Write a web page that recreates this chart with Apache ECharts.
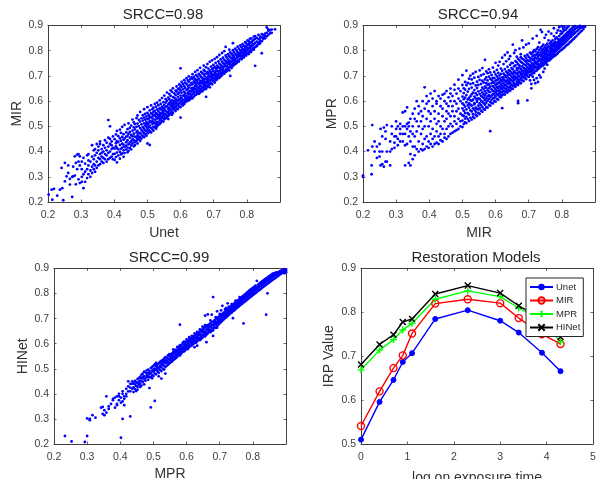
<!DOCTYPE html>
<html><head><meta charset="utf-8">
<style>html,body{margin:0;padding:0;background:#fff}#c{width:597px;height:479px}</style>
<script src="https://cdn.jsdelivr.net/npm/echarts@6/dist/echarts.min.js"></script>
</head><body><div id="c"></div>
<script>
const titles=['SRCC=0.98','SRCC=0.94','SRCC=0.99','Restoration Models'];
const xNames=['Unet','MIR','MPR','log on exposure time'];
const yNames=['MIR','MPR','HINet','IRP Value'];
const exposure=[0,.4,.7,.9,1.1,1.6,2.3,3,3.4,3.9,4.3];
const unetCurve=[.51,.596,.646,.687,.707,.785,.805,.781,.754,.708,.666];
const mirCurve=[.541,.62,.673,.702,.752,.82,.83,.821,.787,.75,.728];
const mprCurve=[.669,.714,.738,.76,.775,.83,.849,.836,.81,.78,.733];
const hinetCurve=[.681,.727,.749,.778,.785,.842,.861,.844,.815,.785,.744];
// each row: x value followed by the y values read at that x
const unetMir=[
[.202,.229],[.211,.249],[.213,.209],[.218,.252],[.228,.225],[.236,.249],[.241,.335],[.243,.255],[.246,.207],[.251,.282,.355],[.256,.302],[.261,.345,.315],[.266,.269,.292],[.273,.22,.3],[.276,.302,.34],[.281,.381,.305],[.284,.355,.27],[.288,.388,.33],[.292,.29,.36,.39],[.296,.275,.381,.345],[.302,.3,.33,.36,.28],[.307,.255,.31,.375],[.312,.32,.28,.352],[.318,.295,.33,.385],[.322,.31,.345,.365,.39],[.328,.325,.3,.36],[.333,.315,.34,.38,.425],[.338,.33,.35,.405,.37],[.342,.345,.32,.385,.41],[.347,.335,.36,.395,.43],[.352,.345,.375,.405,.42],[.357,.35,.37,.39,.43,.44],[.362,.36,.38,.41,.395],[.367,.355,.375,.4,.425],[.372,.37,.39,.415,.445],[.377,.36,.385,.405,.435],[.382,.37,.395,.42,.455,.525],[.387,.375,.4,.43,.45,.5],[.392,.38,.41,.425,.44],[.396,.37,.39,.415,.46],
[.401,.367,.412,.449,.391],[.405,.421,.378,.468,.433],[.408,.396,.441,.357,.482,.414],[.412,.438,.384,.409,.461],[.417,.372,.426,.452,.399,.487],[.42,.443,.411,.389,.474],[.424,.431,.393,.458,.416,.498],[.428,.405,.447,.379,.469,.427],[.431,.452,.418,.394,.506],[.436,.408,.476,.437,.459,.423],[.44,.489,.445,.416,.397,.462],[.443,.429,.471,.512,.403],[.447,.414,.455,.436,.494,.478],[.451,.441,.424,.503,.466,.409],[.455,.483,.449,.432,.527,.461],[.459,.421,.471,.445,.516,.496],[.462,.437,.488,.459,.425,.509],[.467,.476,.443,.533,.498,.456],[.47,.464,.432,.511,.482,.449,.543],[.474,.448,.501,.472,.526,.459],[.478,.493,.456,.519,.474,.442,.557],[.482,.467,.508,.486,.451,.532],[.486,.461,.497,.523,.479,.544],[.49,.512,.473,.457,.491,.535,.568],[.493,.468,.503,.484,.527,.549],[.497,.481,.518,.463,.539,.498,.511],[.5,.472,.529,.491,.553,.507,.432,.576],[.504,.486,.476,.514,.544,.497,.531],[.507,.522,.481,.503,.563,.538,.426],[.511,.494,.536,.476,.517,.552,.583],[.515,.509,.488,.531,.547,.568,.521],[.518,.498,.541,.516,.574,.483,.557],[.522,.527,.496,.512,.561,.544,.589],[.526,.504,.552,.538,.519,.578,.491],[.529,.549,.511,.531,.499,.567,.594],[.533,.518,.561,.543,.506,.584,.534],[.537,.526,.509,.572,.553,.541,.603],[.54,.547,.514,.532,.589,.568,.524],[.544,.521,.563,.538,.578,.552,.612],[.548,.543,.519,.572,.531,.596,.558],[.551,.528,.584,.549,.566,.538,.622],[.555,.561,.532,.594,.547,.576,.608],[.559,.541,.579,.536,.557,.601,.634],[.563,.553,.587,.569,.542,.614,.529],[.566,.546,.608,.574,.592,.561,.628],[.57,.584,.552,.566,.621,.599,.643],[.574,.558,.603,.576,.637,.591,.546],[.577,.569,.592,.553,.616,.581,.651],[.581,.613,.566,.588,.631,.574,.601],[.585,.579,.561,.624,.596,.642,.609],[.588,.592,.571,.638,.606,.658,.582],[.592,.584,.617,.568,.629,.602,.647],[.596,.607,.578,.651,.591,.634,.666],[.6,.535,.598,.622,.576,.643,.611,.73,.661],[.603,.587,.634,.612,.601,.656,.676],[.607,.621,.594,.647,.583,.668,.606],[.611,.603,.637,.589,.624,.659,.683],[.614,.616,.596,.652,.631,.673,.607],[.618,.599,.644,.622,.668,.609,.691],[.622,.632,.604,.661,.615,.648,.682],[.625,.612,.654,.626,.603,.676,.638,.698],[.629,.641,.617,.663,.608,.686,.629],[.633,.621,.651,.638,.672,.614,.694],[.636,.644,.628,.667,.611,.689,.653,.707],[.64,.633,.678,.618,.652,.696,.642],[.644,.649,.624,.671,.659,.687,.716],[.647,.637,.663,.626,.681,.648,.703],[.651,.656,.631,.674,.643,.697,.723,.684],[.655,.638,.668,.629,.689,.652,.708],[.659,.661,.644,.681,.634,.702,.672,.732],[.662,.648,.676,.658,.696,.641,.716],[.666,.669,.639,.691,.654,.711,.681],[.67,.658,.684,.646,.706,.671,.741,.724],[.673,.676,.652,.698,.664,.719,.687],[.677,.617,.661,.688,.648,.709,.674,.734],[.681,.671,.694,.656,.716,.683,.747],[.684,.689,.662,.702,.676,.729,.711],[.688,.668,.697,.681,.721,.655,.756],[.692,.699,.672,.714,.686,.737,.708],[.695,.684,.706,.667,.726,.694,.762],[.699,.703,.679,.719,.691,.744,.731],[.703,.688,.712,.674,.736,.701,.768],[.706,.709,.696,.729,.683,.752,.718],[.71,.693,.721,.704,.741,.686,.774,.731],[.714,.717,.699,.736,.707,.758],[.717,.706,.731,.692,.749,.719,.783],[.721,.724,.711,.744,.698,.766,.733],[.725,.709,.738,.721,.757,.703,.791],[.728,.732,.716,.751,.726,.772],[.732,.718,.746,.709,.764,.737,.798],[.736,.741,.724,.759,.716,.781,.751,.815],[.739,.729,.754,.739,.774,.719],[.743,.748,.726,.766,.736,.786,.756],[.747,.733,.761,.748,.779,.722,.804],[.75,.7,.755,.738,.774,.746,.793],[.754,.743,.769,.731,.787,.757],[.758,.761,.749,.781,.739,.802,.771,.83],[.761,.751,.776,.764,.794,.744],[.765,.768,.747,.787,.759,.808],[.769,.756,.781,.771,.801,.751],[.772,.774,.761,.794,.784,.816],[.776,.763,.789,.779,.808,.757],[.78,.782,.769,.801,.791,.821],[.784,.771,.796,.778,.814,.766],[.787,.788,.776,.806,.797,.826],[.791,.779,.803,.789,.819,.773],[.795,.796,.783,.812,.804,.834],[.798,.787,.817,.799,.829,.781],[.802,.804,.791,.823,.811,.841],[.806,.794,.826,.809,.837,.787],[.809,.812,.799,.831,.819,.847],[.813,.802,.834,.816,.849,.795],[.817,.821,.807,.839,.827],[.821,.811,.843,.826,.856,.804],[.825,.74,.814,.831,.847,.858],[.83,.821,.836,.851,.818],[.835,.832,.826,.846,.863],[.84,.829,.848,.856,.838],[.845,.79,.838,.853,.866],[.85,.846,.862,.852],[.855,.849,.868,.859],[.86,.857,.871,.892],[.865,.863,.879,.885],[.87,.869,.881],[.875,.871,.884],[.885,.885]];
const mirMpr=[
[.2,.305,.3],[.215,.405],[.226,.345,.31],[.228,.42,.505],[.235,.4,.44],[.242,.375,.42],[.25,.4,.43,.38],[.253,.49,.345],[.258,.35,.4,.46],[.263,.34,.495],[.268,.36,.45,.48],[.272,.505,.4,.36],[.282,.345,.4,.44],[.287,.41,.47,.5],[.295,.415,.46,.435],[.3,.49,.52,.46],[.305,.45,.5,.425],[.312,.47,.44,.51,.49],[.32,.44,.5,.47,.555],[.327,.345,.425,.47,.5,.56],[.333,.43,.49,.51,.575],[.338,.355,.46,.5,.515],[.343,.345,.39,.44,.48,.53],[.35,.37,.47,.5,.55,.42],[.356,.385,.42,.46,.53,.57],[.362,.41,.48,.52,.6],[.368,.4,.44,.5,.55,.58],[.375,.41,.47,.52,.56],[.38,.405,.43,.49,.54,.6],[.386,.41,.45,.5,.57,.655],[.392,.42,.46,.53,.59,.62],[.398,.415,.44,.5,.56,.6],[.404,.43,.47,.52,.55,.63],[.41,.42,.45,.49,.58,.61],[.416,.43,.46,.53,.56,.64],[.422,.435,.48,.51,.6,.59],[.428,.43,.46,.52,.55,.62],[.434,.445,.47,.5,.58,.61],[.44,.44,.49,.54,.57,.625],[.446,.455,.47,.52,.6,.63],[.452,.45,.49,.53,.56,.64,.59],[.458,.46,.5,.55,.58,.615],[.464,.47,.51,.54,.6,.63,.65],[.47,.475,.5,.56,.58,.62],[.476,.48,.52,.54,.6,.645,.665],[.482,.485,.51,.56,.59,.63],[.488,.49,.53,.57,.61,.65,.685],[.494,.5,.52,.55,.6,.64],
[.5,.497,.523,.571,.544,.618,.591,.664,.703],[.504,.509,.541,.586,.562,.632,.608,.651],[.508,.516,.531,.578,.553,.614,.646,.676],[.512,.513,.567,.538,.596,.624,.663,.721],[.516,.529,.552,.583,.607,.638,.672],[.52,.521,.547,.574,.613,.591,.649,.689],[.524,.534,.563,.586,.619,.604,.668,.701],[.528,.527,.559,.582,.627,.601,.654,.686],[.532,.538,.571,.548,.606,.634,.671,.709],[.536,.533,.566,.592,.618,.644,.587,.693],[.54,.546,.574,.558,.611,.631,.662,.716],[.544,.541,.597,.569,.624,.652,.677,.603],[.548,.553,.582,.611,.567,.639,.696,.664],[.552,.549,.591,.572,.629,.609,.684,.722],[.556,.562,.584,.602,.643,.621,.668,.702],[.56,.558,.598,.577,.634,.617,.681,.654,.731],[.564,.569,.592,.612,.648,.627,.707,.674],[.568,.566,.604,.586,.639,.622,.686,.658,.764],[.572,.576,.611,.594,.652,.631,.694,.671,.718],[.576,.574,.602,.619,.643,.664,.711,.682],[.58,.585,.609,.637,.624,.668,.651,.726,.697],[.584,.582,.617,.597,.658,.636,.689,.714,.481],[.588,.593,.622,.606,.647,.671,.704,.684],[.592,.591,.613,.641,.628,.677,.659,.733,.692],[.596,.601,.626,.612,.654,.638,.691,.716,.672],[.6,.598,.634,.619,.664,.647,.706,.681,.752],[.604,.609,.628,.656,.642,.683,.669,.724,.698],[.608,.606,.639,.623,.671,.652,.712,.689,.741],[.612,.617,.644,.631,.677,.659,.702,.691,.756],[.616,.615,.637,.652,.626,.684,.669,.729,.708],[.62,.572,.623,.649,.636,.679,.661,.721,.694,.772],[.624,.628,.657,.642,.686,.671,.709,.694,.747],[.628,.626,.651,.638,.681,.664,.727,.703,.783],[.632,.636,.662,.648,.694,.676,.717,.699,.758],[.636,.634,.656,.671,.643,.701,.683,.736,.712,.793],[.64,.643,.669,.653,.691,.678,.723,.708,.767],[.644,.641,.673,.658,.704,.686,.744,.719,.778],[.648,.652,.666,.683,.649,.713,.697,.731,.752],[.652,.649,.678,.662,.707,.692,.751,.726,.824],[.656,.659,.684,.671,.717,.699,.738,.716,.791],[.66,.657,.688,.666,.711,.696,.742,.759,.802],[.664,.667,.693,.678,.723,.708,.754,.731,.776],[.668,.601,.664,.686,.701,.674,.729,.713,.768,.746,.592],[.672,.674,.697,.683,.734,.717,.762,.741,.808],[.676,.671,.706,.689,.727,.712,.756,.774,.786],[.68,.682,.702,.694,.738,.721,.752,.769,.841],[.684,.679,.711,.696,.732,.719,.766,.748,.813],[.688,.691,.708,.724,.701,.744,.729,.779,.761],[.692,.687,.716,.704,.741,.726,.772,.756,.824],[.696,.603,.698,.721,.709,.749,.734,.784,.763],[.7,.696,.728,.714,.746,.732,.776,.759,.829],[.704,.703,.724,.742,.717,.761,.739,.792,.771,.682],[.708,.651,.706,.731,.719,.753,.738,.787,.769,.668],[.712,.697,.714,.737,.724,.764,.746,.794,.778,.848],[.716,.711,.741,.729,.761,.749,.783,.802,.768,.684],[.72,.719,.734,.752,.736,.772,.757,.797,.781,.671],[.724,.691,.722,.746,.733,.768,.754,.806,.787,.859],[.728,.727,.749,.738,.776,.759,.793,.814,.782,.676],[.732,.731,.744,.762,.736,.784,.768,.803,.832,.703],[.736,.694,.736,.757,.746,.781,.764,.811,.793,.883],[.74,.739,.753,.769,.749,.788,.774,.817,.801,.874],[.744,.742,.762,.751,.779,.793,.766,.824,.806,.716],[.748,.729,.747,.768,.756,.786,.773,.813,.798,.851],[.752,.751,.771,.761,.794,.781,.821,.807,.863],[.756,.744,.758,.776,.766,.801,.787,.828,.811],[.76,.761,.782,.769,.797,.784,.818,.841,.876],[.764,.763,.784,.773,.806,.793,.829,.814],[.768,.769,.779,.792,.811,.799,.836,.823,.868],[.772,.774,.787,.798,.816,.806,.841,.826],[.776,.778,.794,.784,.819,.803,.831,.858,.889],[.78,.781,.796,.806,.824,.813,.847,.836],[.784,.786,.801,.812,.829,.818,.853,.871],[.788,.791,.807,.817,.834,.823,.846,.881],[.792,.796,.811,.821,.841,.829,.858,.893],[.796,.801,.816,.827,.846,.836,.866,.878],[.8,.804,.822,.833,.851,.841,.869,.897],[.804,.809,.826,.838,.856,.847,.876,.887],[.808,.813,.831,.843,.861,.851,.881,.894],[.812,.819,.836,.848,.866,.857,.884],[.816,.823,.841,.854,.872,.861,.891],[.82,.827,.846,.858,.876,.868,.896],[.824,.833,.852,.864,.882,.873],[.828,.837,.856,.869,.887,.876],[.832,.843,.862,.874,.891,.883],[.836,.847,.867,.879,.895],[.84,.853,.871,.886,.897],[.845,.859,.877,.891],[.85,.866,.883,.895],[.855,.873,.889,.898],[.86,.879,.893],[.865,.886,.896],[.87,.895]];
const mprHinet=[
[.233,.232],[.253,.21],[.293,.208],[.3,.232,.302],[.308,.295,.3],[.316,.315],[.325,.305],[.342,.345],[.347,.348,.32],[.352,.315,.335],[.358,.325,.39],[.365,.35,.34],[.372,.36],[.378,.38,.375],[.384,.345,.385],[.39,.39,.36,.355],[.396,.375,.4,.39],[.402,.225,.385,.365],[.407,.3,.37,.4,.41],[.412,.39,.38,.355],[.418,.4,.42,.39],[.424,.43,.41,.45],[.43,.31,.41,.44,.425],[.436,.42,.44,.45],
[.44,.407,.426,.443],[.444,.419,.438,.452],[.448,.411,.431,.447],[.452,.428,.442,.459,.417],[.456,.436,.449,.463],[.46,.441,.427,.468,.453],[.464,.451,.462,.476,.433],[.468,.447,.466,.481],[.472,.458,.471,.489,.438],[.476,.463,.452,.486],[.48,.467,.481,.473,.494],[.484,.471,.456,.497,.483],[.488,.423,.479,.491,.466],[.492,.346,.468,.484,.503],[.496,.476,.493,.508,.462],[.5,.488,.471,.498,.512],[.504,.372,.481,.501,.494,.517],[.508,.499,.478,.511,.523],[.512,.489,.507,.516,.496],[.516,.503,.484,.522,.47],[.52,.512,.495,.527,.506],[.524,.508,.491,.531,.519,.461],[.528,.517,.501,.534,.526],[.532,.513,.528,.497,.54],[.536,.523,.507,.533,.546,.481],[.54,.531,.512,.544,.525],[.544,.527,.539,.553,.516],[.548,.536,.521,.549,.558],[.552,.533,.557,.544,.526],[.556,.541,.529,.561,.553],[.56,.549,.535,.566,.558,.577],[.564,.546,.562,.571,.539],[.568,.553,.569,.543,.576,.561],[.572,.559,.574,.548,.567,.587],[.576,.556,.579,.566,.586],[.58,.564,.583,.553,.572,.676,.594],[.584,.572,.589,.561,.579],[.588,.568,.596,.581,.603],[.592,.577,.586,.599,.569,.608],[.596,.583,.604,.574,.594],[.6,.581,.596,.589,.609,.617],[.604,.588,.612,.579,.601],[.608,.594,.606,.586,.617,.626],[.612,.591,.619,.603,.611],[.616,.601,.623,.593,.612,.631],[.62,.606,.617,.599,.628],[.624,.603,.631,.613,.624,.641,.586],[.628,.611,.622,.636,.603],[.632,.618,.638,.609,.627,.647,.592],[.636,.616,.643,.624,.633],[.64,.622,.637,.648,.614,.657],[.644,.627,.652,.636,.619],[.648,.633,.646,.657,.624,.668],[.652,.631,.661,.643,.651],[.656,.637,.648,.666,.629,.712,.674],[.66,.644,.657,.671,.636,.606],[.664,.641,.664,.653,.674,.717],[.668,.648,.677,.658,.669],[.672,.654,.668,.681,.646,.693],[.676,.651,.686,.664,.675,.716],[.68,.659,.674,.688,.653,.786,.631],[.684,.666,.682,.693,.676],[.688,.663,.697,.678,.687,.706],[.692,.671,.686,.701,.664,.729],[.696,.676,.694,.706,.684],[.7,.682,.698,.689,.711,.719],[.704,.687,.708,.696,.716,.733],[.708,.692,.703,.719,.711,.751],[.712,.697,.714,.724,.706],[.716,.702,.718,.728,.711,.738],[.72,.706,.723,.714,.733,.743],[.724,.711,.727,.736,.719,.761],[.728,.716,.732,.741,.724,.748],[.732,.721,.737,.746,.729],[.736,.724,.741,.733,.751,.758],[.74,.729,.746,.755,.737,.702],[.744,.733,.751,.742,.761],[.748,.738,.756,.747,.766,.772],[.752,.743,.759,.752,.769],[.756,.746,.764,.757,.774],[.76,.751,.769,.761,.779,.786],[.764,.756,.774,.766,.783],[.768,.759,.778,.771,.788],[.772,.764,.783,.776,.681,.792],[.776,.768,.787,.779,.797],[.78,.772,.791,.784,.801],[.784,.777,.796,.788,.806],[.788,.781,.799,.793,.811],[.792,.786,.804,.797,.815],[.796,.789,.808,.801,.819],[.8,.794,.813,.806,.823],[.804,.798,.816,.809,.827],[.808,.802,.821,.814,.832],[.812,.806,.825,.818,.851],[.816,.811,.828,.822,.836],[.82,.814,.832,.826,.841],[.824,.818,.837,.831,.845],[.828,.823,.84,.834,.849],[.832,.827,.844,.838,.853],[.836,.831,.848,.843,.857],[.84,.716,.835,.852,.846,.861],[.844,.801,.839,.856,.851,.864],[.848,.843,.86,.854,.868],[.852,.847,.863,.858,.871],[.856,.851,.867,.862,.875],[.86,.855,.871,.866,.879],[.865,.859,.876,.87,.881],[.87,.864,.88,.875,.884],[.875,.869,.884,.878],[.88,.874,.888,.882],[.885,.879,.891,.886],[.89,.883,.893,.887],[.895,.881,.886,.892,.897],[.9,.885,.891,.896]];

const expand=rows=>rows.flatMap(r=>r.slice(1).map(y=>[r[0],y]));
const ink='#404040';
const font='"Liberation Sans",Arial,sans-serif';
const boxes=[{left:48,top:25.5,width:232,height:176.5},{left:363,top:25.5,width:232,height:176.5},{left:54,top:268.5,width:232,height:175.5},{left:361,top:268.5,width:232,height:175.5}];
const xAxis=[],yAxis=[];
const nameGapsX=[24,24,23,27];
boxes.forEach((b,i)=>{
  const line=i===3;
  const base={axisLine:{show:true,onZero:false,lineStyle:{color:ink,width:1}},axisTick:{show:true,inside:true,length:2.5,lineStyle:{color:ink,width:.8}},splitLine:{show:false},gridIndex:i};
  const xr=line?{min:0,max:5,interval:1}:{min:.2,max:.9,interval:.1};
  const yr=line?{min:.5,max:.9,interval:.1}:{min:.2,max:.9,interval:.1};
  xAxis.push({...base,...xr,type:'value',position:'bottom',name:xNames[i],nameLocation:'middle',nameGap:nameGapsX[i],nameTextStyle:{fontFamily:font,fontSize:14,color:'#333'},
    axisLabel:{fontFamily:font,fontSize:10.5,color:ink,margin:8,formatter:v=>line?String(v):(v>.85?'':v.toFixed(1))}});
  xAxis.push({...base,...xr,type:'value',position:'top',axisLabel:{show:false}});
  yAxis.push({...base,...yr,type:'value',position:'left',name:yNames[i],nameLocation:'middle',nameGap:line?25:24,nameTextStyle:{fontFamily:font,fontSize:14,color:'#333'},
    axisLabel:{fontFamily:font,fontSize:10.5,color:ink,margin:5,formatter:v=>v.toFixed(1)}});
  yAxis.push({...base,...yr,type:'value',position:'right',axisLabel:{show:false}});
});
const scatter=(rows,i)=>({type:'scatter',xAxisIndex:i*2,yAxisIndex:i*2,data:expand(rows),symbolSize:2.8,itemStyle:{color:'#0000ff',opacity:1},animation:false,silent:true,large:false});
const curve=(name,data,color,symbol,size,extra)=>({type:'line',name,xAxisIndex:6,yAxisIndex:6,data:exposure.map((x,k)=>[x,data[k]]),symbol,symbolSize:size,showAllSymbol:true,lineStyle:{color,width:1.4},itemStyle:{color,borderColor:color,...extra},animation:false,silent:true});
const plus='path://M5 0L5 10M0 5L10 5',cross='path://M1 1L9 9M9 1L1 9';
const option={animation:false,backgroundColor:'#fff',
 title:titles.map((t,i)=>({text:t,left:boxes[i].left+115,top:boxes[i].top-18,textAlign:'center',padding:0,textStyle:{fontFamily:font,fontSize:15,fontWeight:'normal',color:'#262626'}})),
 grid:boxes.map(b=>({...b,containLabel:false,outerBoundsMode:'none'})),
 xAxis,yAxis,
 legend:{orient:'vertical',left:526,top:278,padding:[4,3,4,3],itemGap:3.5,itemWidth:23,itemHeight:8,backgroundColor:'#fff',borderColor:'#262626',borderWidth:1,borderRadius:0,
  textStyle:{fontFamily:font,fontSize:9.5,color:'#262626',padding:[0,0,0,-2]},data:['Unet','MIR','MPR','HINet']},
 series:[scatter(unetMir,0),scatter(mirMpr,1),scatter(mprHinet,2),
  curve('Unet',unetCurve,'#0000ff','circle',5,{}),
  curve('MIR',mirCurve,'#ff0000','circle',7,{color:'rgba(0,0,0,0)',borderWidth:1.4}),
  curve('MPR',mprCurve,'#00ff00',plus,7,{borderWidth:1.4}),
  curve('HINet',hinetCurve,'#000000',cross,6,{borderWidth:1.4})]};
const chart=echarts.init(document.getElementById('c'),null,{renderer:'canvas'});
chart.setOption(option);
</script></body></html>
